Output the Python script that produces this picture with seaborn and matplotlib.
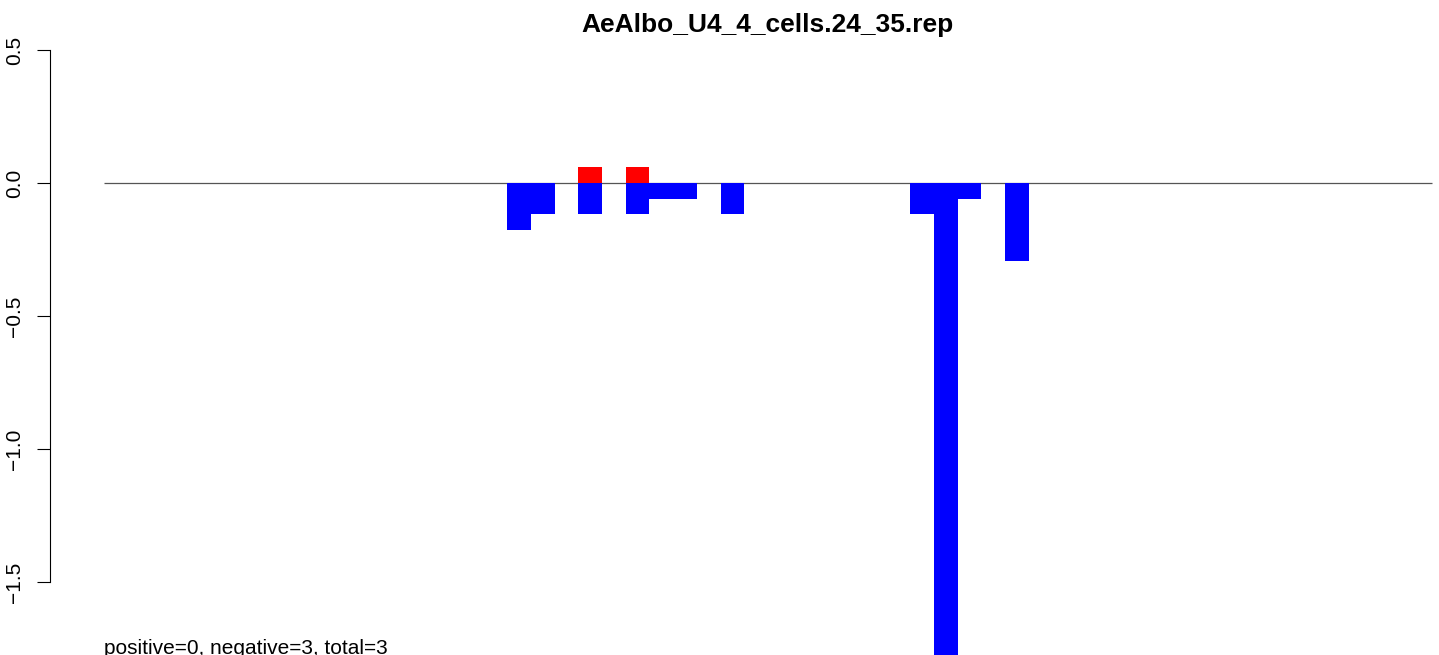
import numpy as np
import pandas as pd
import matplotlib
matplotlib.use('Agg')
import matplotlib.pyplot as plt
import seaborn as sns

# Data (slot index, value)
title = 'AeAlbo_U4_4_cells.24_35.rep'
note = 'positive=0, negative=3, total=3'
n_slots = 56

neg_pos = [17, 18, 20, 22, 23, 24, 26, 34, 35, 36, 38]
neg_val = [-0.176, -0.118, -0.118, -0.118, -0.059, -0.059, -0.118, -0.118, -1.88, -0.059, -0.294]

pos_pos = [20, 22]
pos_val = [0.059, 0.059]

y_ticks = [0.5, 0.0, -0.5, -1.0, -1.5]

sns.set_style('white')
plt.rcParams['font.family'] = ['Liberation Sans', 'DejaVu Sans']
plt.rcParams['text.color'] = 'black'

W, H = 1439, 655
fig = plt.figure(figsize=(W / 100, H / 100), dpi=100)
ax = fig.add_axes([50 / W, 0, (W - 50) / W, 1])

neg_df = pd.DataFrame({'x': np.array(neg_pos) + 0.5, 'y': neg_val})
pos_df = pd.DataFrame({'x': np.array(pos_pos) + 0.5, 'y': pos_val})

# with native_scale the width is relative to the smallest gap between bars
neg_w = 1 / np.diff(neg_pos).min()
pos_w = 1 / np.diff(pos_pos).min()

sns.barplot(data=neg_df, x='x', y='y', native_scale=True, width=neg_w, color='#0000ff',
            saturation=1, errorbar=None, linewidth=0, ax=ax, zorder=2)
sns.barplot(data=pos_df, x='x', y='y', native_scale=True, width=pos_w, color='#ff0000',
            saturation=1, errorbar=None, linewidth=0, ax=ax, zorder=2)

ax.hlines(0, 0, n_slots, color='#555555', lw=0.9, zorder=1)

slot_px = 23.714
ax.set_xlim((50 - 104) / slot_px, (W - 104) / slot_px)
ax.set_ylim(-(H - 183) / 266.0, 183 / 266.0)

for s in ['top', 'right', 'bottom']:
    ax.spines[s].set_visible(False)
ax.spines['left'].set_bounds(-1.5, 0.5)
ax.spines['left'].set_linewidth(0.8)
ax.spines['left'].set_color('black')

ax.set_xticks([])
ax.set_yticks(y_ticks)
ax.set_yticklabels([f'{v:.1f}'.replace('-', '\u2212') for v in y_ticks], rotation=90, va='center')
ax.tick_params(axis='y', left=True, length=9.5, width=0.8, pad=9, labelsize=15,
               color='black', labelcolor='black')
ax.set_xlabel('')
ax.set_ylabel('')

fig.text(767 / W, 1 - 32 / H, title, ha='center', va='baseline',
         fontsize=19, fontweight='bold', color='black')
fig.text(104 / W, 1 / H, note, ha='left', va='baseline', fontsize=15, color='black')

fig.savefig('out.png', dpi=100)
